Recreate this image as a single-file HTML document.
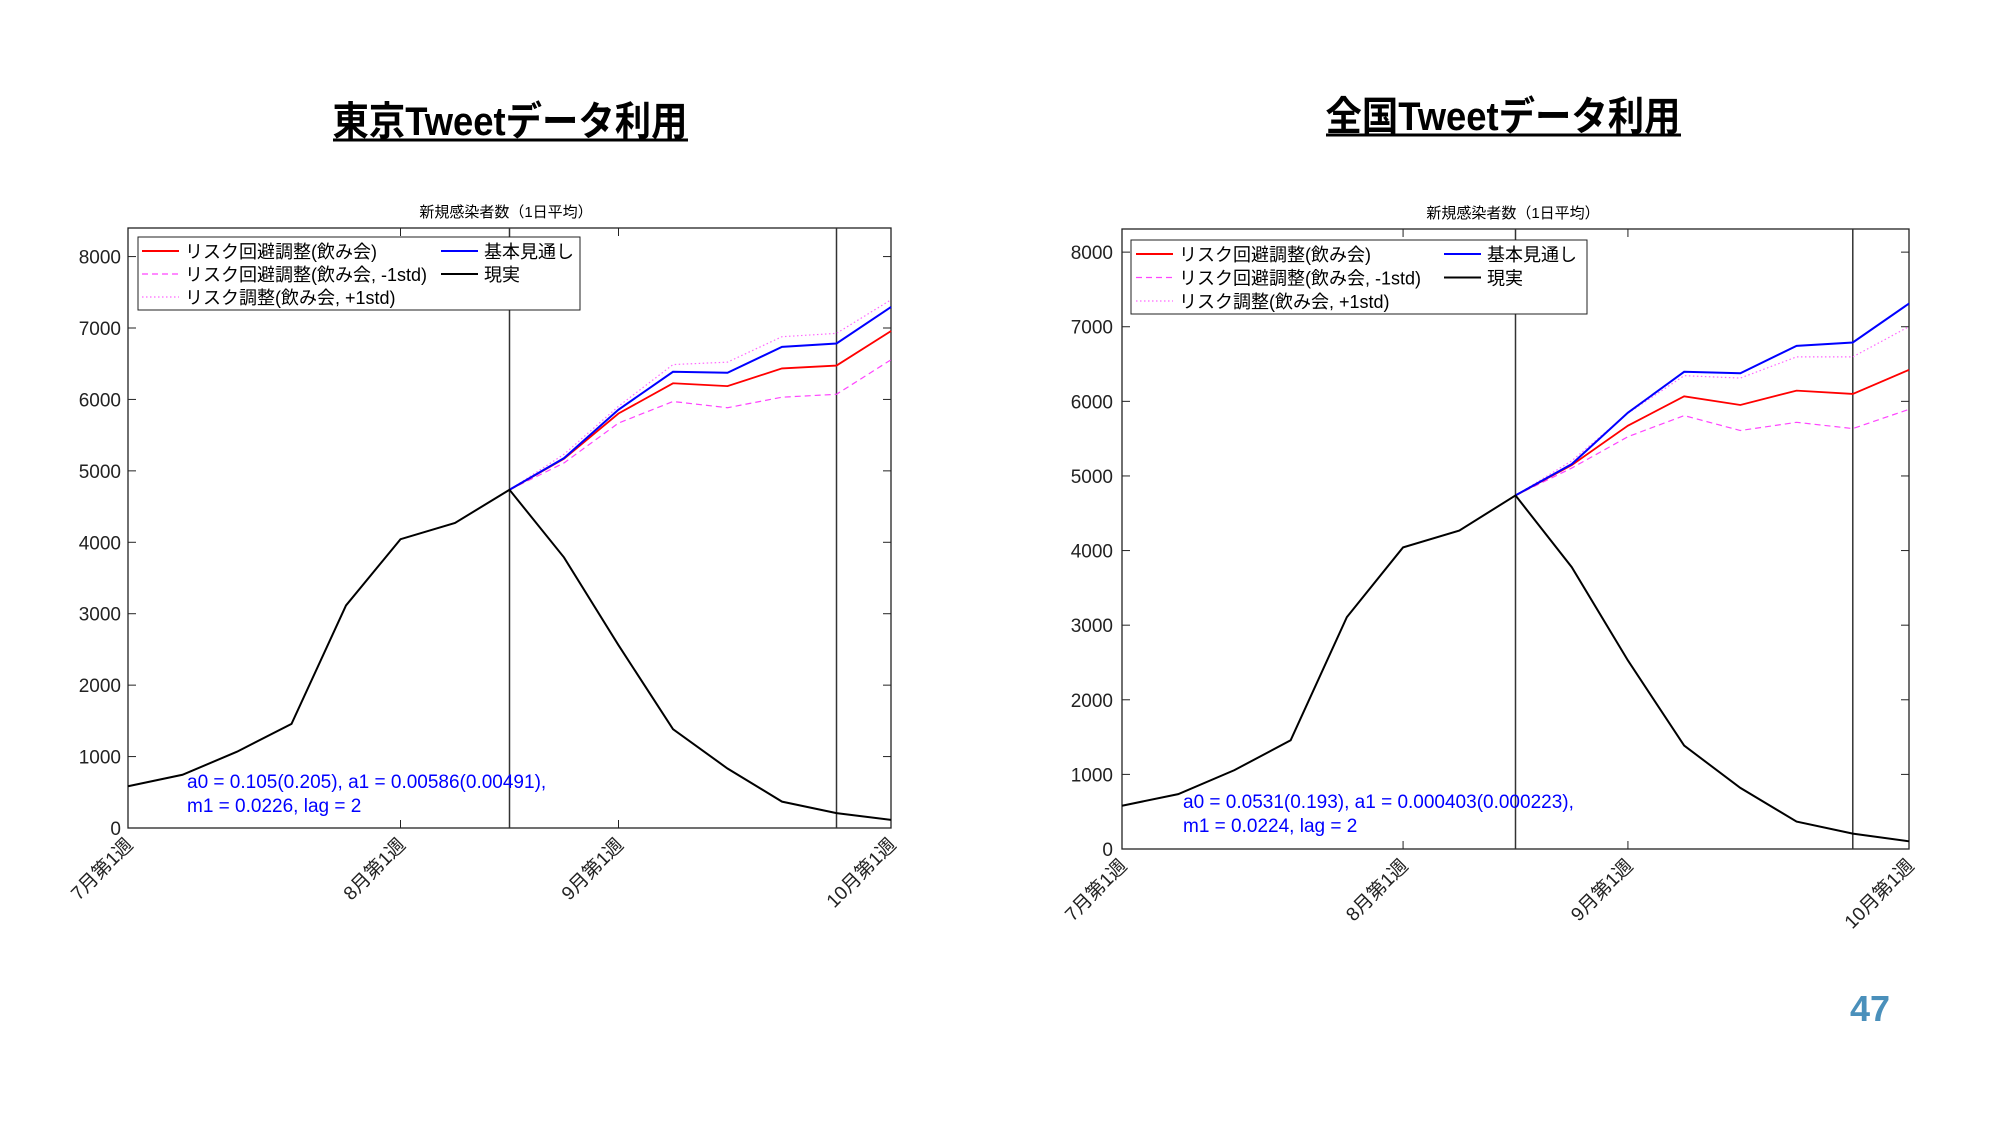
<!DOCTYPE html>
<html><head><meta charset="utf-8"><style>
html,body{margin:0;padding:0;background:#fff;}
svg{display:block;font-family:"Liberation Sans","Noto Sans CJK JP",sans-serif;}
</style></head><body>
<svg id="root" width="2000" height="1125" viewBox="0 0 2000 1125" xmlns="http://www.w3.org/2000/svg">
<text x="510" y="135" font-size="40" font-weight="bold" text-anchor="middle" textLength="355" lengthAdjust="spacingAndGlyphs">東京Tweetデータ利用</text>
<line x1="333" y1="140" x2="688" y2="140" stroke="#000" stroke-width="3"/>
<text x="1503" y="130" font-size="40" font-weight="bold" text-anchor="middle" textLength="355" lengthAdjust="spacingAndGlyphs">全国Tweetデータ利用</text>
<line x1="1326" y1="135" x2="1681" y2="135" stroke="#000" stroke-width="3"/>
<text x="1870" y="1021" font-size="36" font-weight="bold" fill="#4a90bb" text-anchor="middle">47</text>
<g id="c1"></g>
<g id="c2"></g>
</svg>
<script>
const xLabels = ["7月第1週","8月第1週","9月第1週","10月第1週"];
const xLabelIdx = [0,5,9,14];
const yTicks = [0,1000,2000,3000,4000,5000,6000,7000,8000];
const vLines = [7,13];
// Tokyo
const tkActual = [584,745,1068,1457,3116,4043,4271,4735,3788,2559,1383,833,369,208,114];
const tkBase = [4735,5178,5857,6387,6373,6736,6783,7294];
const tkRisk = [4735,5170,5803,6226,6186,6434,6474,6958];
const tkMinus = [4735,5111,5669,5971,5884,6031,6072,6555];
const tkPlus = [4735,5232,5904,6488,6522,6878,6925,7395];
// National
const nzActual = [580,735,1057,1457,3108,4043,4268,4739,3778,2527,1386,819,367,206,103];
const nzBase = [4739,5158,5848,6396,6377,6744,6789,7311];
const nzRisk = [4739,5145,5674,6067,5951,6144,6099,6422];
const nzMinus = [4739,5106,5526,5809,5609,5719,5635,5893];
const nzPlus = [4739,5203,5841,6344,6312,6596,6596,7002];
const NS="http://www.w3.org/2000/svg";
function mk(p,t,a){const e=document.createElementNS(NS,t);for(const k in a)e.setAttribute(k,a[k]);p.appendChild(e);return e;}
function chart(g,cfg){
  const {L,R,T,B,ymax,actual,base,risk,minus,plus,ann,leg,subX,subY,ylabX}=cfg;
  const xs=i=>L+(R-L)*i/14, ys=v=>B-(B-T)*v/ymax;
  let t=mk(g,'text',{x:subX,y:subY,'font-size':15,'text-anchor':'middle'});t.textContent='新規感染者数（1日平均）';
  
  
  const frame=mk(g,'rect',{x:L,y:T,width:R-L,height:B-T,fill:'none',stroke:'#222','stroke-width':1.3});
  
  
  yTicks.forEach(v=>{const y=ys(v);
    mk(g,'line',{x1:L,y1:y,x2:L+8,y2:y,stroke:'#222'});mk(g,'line',{x1:R,y1:y,x2:R-8,y2:y,stroke:'#222'});
    const tx=mk(g,'text',{x:ylabX,y:y+7,'font-size':19,'text-anchor':'end',fill:'#222'});tx.textContent=v;
    
    });
  xLabelIdx.forEach((i,k)=>{const x=xs(i);
    mk(g,'line',{x1:x,y1:B,x2:x,y2:B-8,stroke:'#222'});mk(g,'line',{x1:x,y1:T,x2:x,y2:T+8,stroke:'#222'});
    const tx=mk(g,'text',{x:x+6,y:B+18,'font-size':19,'text-anchor':'end',transform:`rotate(-45 ${x+6} ${B+18})`,fill:'#222'});tx.textContent=xLabels[k];
    
    });
  vLines.forEach(i=>{const l=mk(g,'line',{x1:xs(i),y1:T,x2:xs(i),y2:B,stroke:'#333','stroke-width':1.5});
    
    });
  const line=(arr,off,col,w,dash,name)=>{const p=mk(g,'polyline',{points:arr.map((v,i)=>xs(i+off)+','+ys(v)).join(' '),fill:'none',stroke:col,'stroke-width':w,'stroke-dasharray':dash});
    
    };
  line(plus,7,'#ff66ff',1.2,'1.5 2.5','series-plus-1std');
  line(minus,7,'#ff44ff',1.2,'6 4','series-minus-1std');
  line(risk,7,'#ff0000',1.8,'none','series-risk-adjusted');
  line(base,7,'#0000ff',2,'none','series-baseline');
  line(actual,0,'#000',2,'none','series-actual');
  // legend
  const lg=mk(g,'g',{});
  
  
  mk(lg,'rect',{x:leg.x,y:leg.y,width:leg.w,height:leg.h,fill:'#fff',stroke:'#222'});
  const ents=[['#ff0000','none',0,0,'リスク回避調整(飲み会)'],['#ff44ff','6 4',0,1,'リスク回避調整(飲み会, -1std)'],['#ff66ff','1.5 2.5',0,2,'リスク調整(飲み会, +1std)'],['#0000ff','none',1,0,'基本見通し'],['#000','none',1,1,'現実']];
  ents.forEach(e=>{const lx=e[2]?leg.c2:leg.c1, y=leg.r0+e[3]*leg.dr;
    mk(lg,'line',{x1:lx,y1:y,x2:lx+37,y2:y,stroke:e[0],'stroke-width':e[0]=='#ff0000'||e[0]=='#0000ff'||e[0]=='#000'?2:1.2,'stroke-dasharray':e[1]});
    const tx=mk(lg,'text',{x:lx+43,y:y+7,'font-size':18});tx.textContent=e[4];
    
    });
  ann.lines.forEach((s,i)=>{const tx=mk(g,'text',{x:ann.x,y:ann.y+i*24,'font-size':19,fill:'#0000ff'});tx.textContent=s;
    
    });
}
chart(document.getElementById('c1'),{L:128,R:891,T:228,B:828,ymax:8400,actual:tkActual,base:tkBase,risk:tkRisk,minus:tkMinus,plus:tkPlus,
  subX:506,subY:217,ylabX:121,
  leg:{x:138,y:237,w:442,h:73,c1:142,c2:441,r0:251,dr:23},
  ann:{x:187,y:788,lines:['a0 = 0.105(0.205), a1 = 0.00586(0.00491),','m1 = 0.0226, lag = 2']}});
chart(document.getElementById('c2'),{L:1122,R:1909,T:229,B:849,ymax:8310,actual:nzActual,base:nzBase,risk:nzRisk,minus:nzMinus,plus:nzPlus,
  subX:1513,subY:218,ylabX:1113,
  leg:{x:1131,y:240,w:456,h:74,c1:1136,c2:1444,r0:254,dr:23.5},
  ann:{x:1183,y:808,lines:['a0 = 0.0531(0.193), a1 = 0.000403(0.000223),','m1 = 0.0224, lag = 2']}});
</script>
</body></html>
